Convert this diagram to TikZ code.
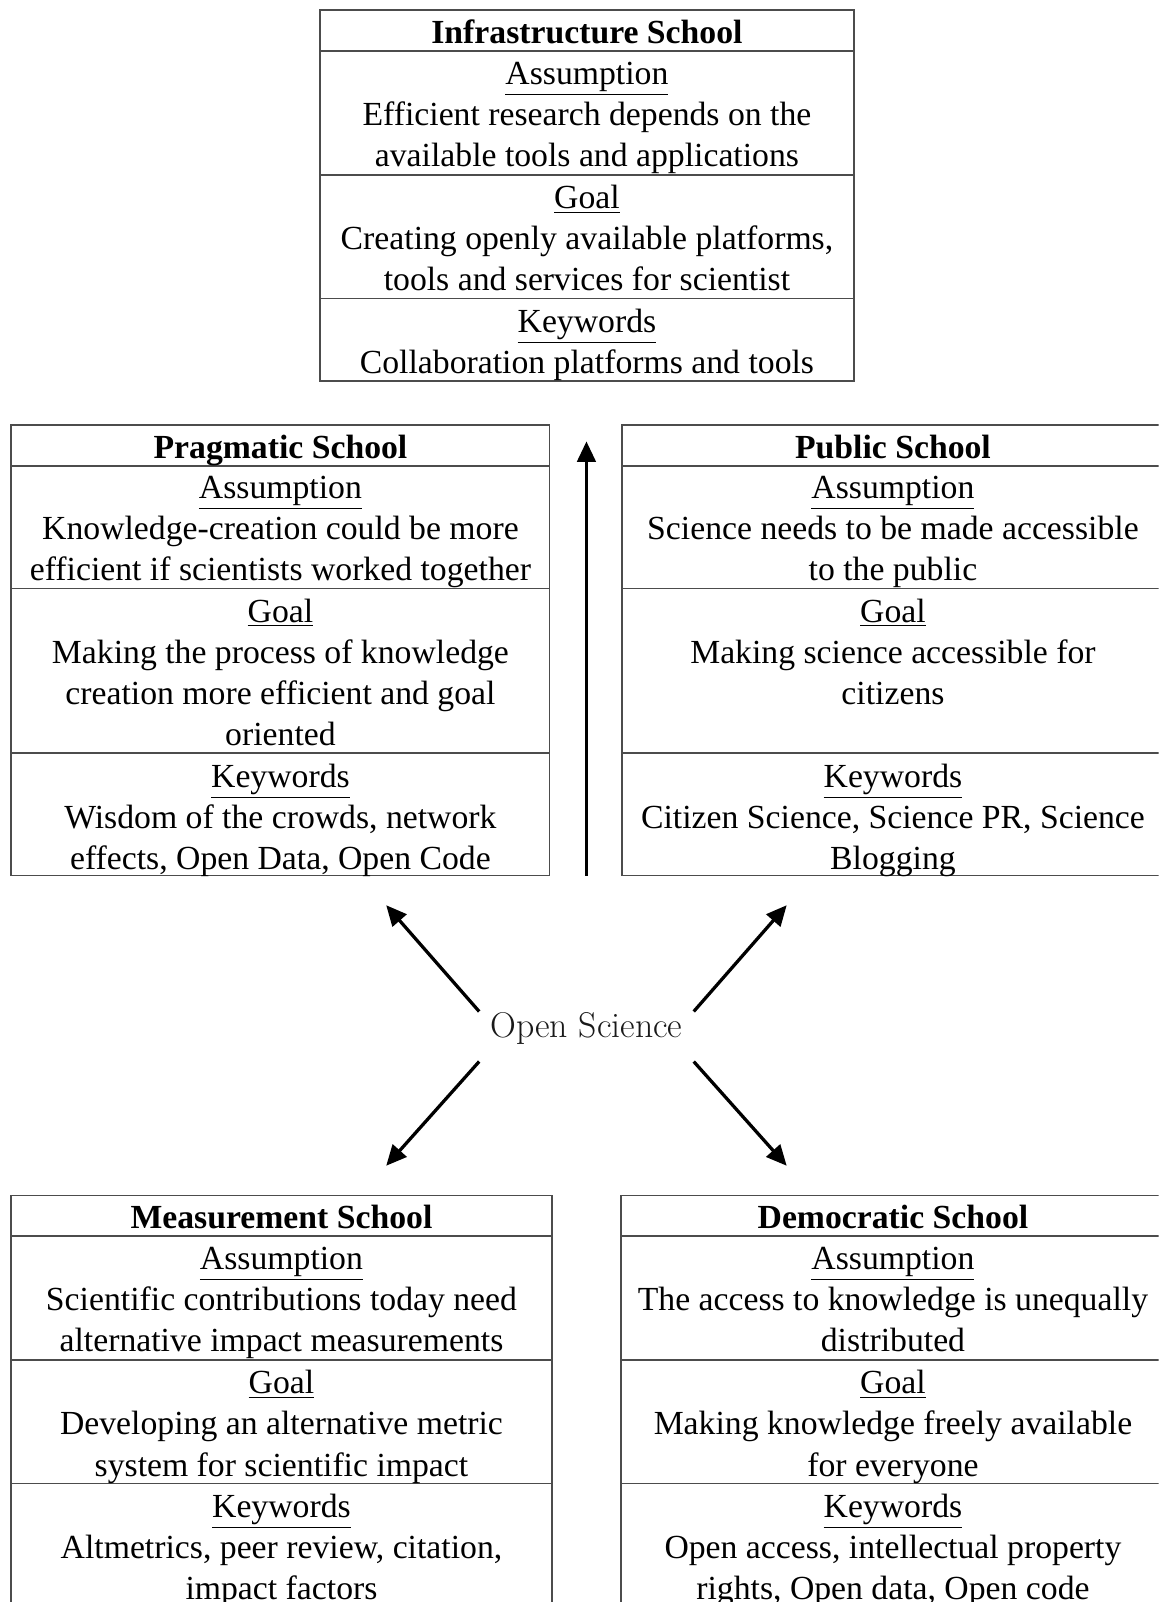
\documentclass[tikz,border=0pt]{standalone}
\usepackage{fontspec}
\setmainfont{Liberation Serif}
\newfontfamily\osfont{Latin Modern Roman}
\usetikzlibrary{arrows.meta}

\begin{document}
\begin{tikzpicture}[x=0.5pt,y=-0.5pt,
  box/.style={draw=black!70,line width=0.8pt},
  cell/.style={anchor=north,inner sep=0pt,align=center,yshift=-5pt,
    font=\fontsize{16.5}{20.1}\selectfont},
  head/.style={cell,yshift=0.5pt,font=\fontsize{16.5}{20.1}\selectfont\bfseries},
  arr/.style={-{Triangle[length=10pt,width=9pt]},line width=1.6pt}]
\useasboundingbox (0,0) rectangle (1134,1568);
\clip (0,0) rectangle (1134,1568);

\draw[box] (313,10) rectangle (836,373); %infrastructure school
\draw[box] (313,50) -- (836,50);
\draw[box] (313,171) -- (836,171);
\draw[box] (313,292) -- (836,292);
\node[head] (infT) at (574.5,10) {Infrastructure School};
\node[cell] (infA) at (574.5,50) {\underline{Assumption}\\Efficient research depends on the\\available tools and applications};
\node[cell] (infG) at (574.5,171) {\underline{Goal}\\Creating openly available platforms,\\tools and services for scientist};
\node[cell] (infK) at (574.5,292) {\underline{Keywords}\\Collaboration platforms and tools};

\draw[box] (11,416) rectangle (538,857); %pragmatic school
\draw[box] (11,456) -- (538,456);
\draw[box] (11,576) -- (538,576);
\draw[box] (11,737) -- (538,737);
\node[head] (praT) at (274.5,416) {Pragmatic School};
\node[cell] (praA) at (274.5,456) {\underline{Assumption}\\Knowledge-creation could be more\\efficient if scientists worked together};
\node[cell] (praG) at (274.5,576) {\underline{Goal}\\Making the process of knowledge\\creation more efficient and goal\\oriented};
\node[cell] (praK) at (274.5,737) {\underline{Keywords}\\Wisdom of the crowds, network\\effects, Open Data, Open Code};

\draw[box] (609,416) rectangle (1140,857); %public school
\draw[box] (609,456) -- (1140,456);
\draw[box] (609,576) -- (1140,576);
\draw[box] (609,737) -- (1140,737);
\node[head] (pubT) at (874,416) {Public School};
\node[cell] (pubA) at (874,456) {\underline{Assumption}\\Science needs to be made accessible\\to the public};
\node[cell] (pubG) at (874,576) {\underline{Goal}\\Making science accessible for\\citizens};
\node[cell] (pubK) at (874,737) {\underline{Keywords}\\Citizen Science, Science PR, Science\\Blogging};

\draw[box] (11,1170) rectangle (540,1600); %measurement school
\draw[box] (11,1210) -- (540,1210);
\draw[box] (11,1331) -- (540,1331);
\draw[box] (11,1452) -- (540,1452);
\node[head] (meaT) at (275.5,1170) {Measurement School};
\node[cell] (meaA) at (275.5,1210) {\underline{Assumption}\\Scientific contributions today need\\alternative impact measurements};
\node[cell] (meaG) at (275.5,1331) {\underline{Goal}\\Developing an alternative metric\\system for scientific impact};
\node[cell] (meaK) at (275.5,1452) {\underline{Keywords}\\Altmetrics, peer review, citation,\\impact factors};

\draw[box] (608,1170) rectangle (1140,1600); %democratic school
\draw[box] (608,1210) -- (1140,1210);
\draw[box] (608,1331) -- (1140,1331);
\draw[box] (608,1452) -- (1140,1452);
\node[head] (demT) at (874,1170) {Democratic School};
\node[cell] (demA) at (874,1210) {\underline{Assumption}\\The access to knowledge is unequally\\distributed};
\node[cell] (demG) at (874,1331) {\underline{Goal}\\Making knowledge freely available\\for everyone};
\node[cell] (demK) at (874,1452) {\underline{Keywords}\\Open access, intellectual property\\rights, Open data, Open code};

\node[font=\osfont\fontsize{17.5}{20}\selectfont,text=black!90] (os) at (574,1007) {Open Science};

\coordinate (upS) at (574,857); %arrow ends
\coordinate (upN) at (574,432);
\coordinate (hubNW) at (469,990);
\coordinate (hubNE) at (679,990);
\coordinate (hubSW) at (469,1039);
\coordinate (hubSE) at (679,1039);
\coordinate (tipNW) at (378,886);
\coordinate (tipNE) at (770,886);
\coordinate (tipSW) at (378,1141);
\coordinate (tipSE) at (770,1141);

\draw[arr] (upS) -- (upN);
\draw[arr] (hubNW) -- (tipNW);
\draw[arr] (hubNE) -- (tipNE);
\draw[arr] (hubSW) -- (tipSW);
\draw[arr] (hubSE) -- (tipSE);
\end{tikzpicture}
\end{document}
